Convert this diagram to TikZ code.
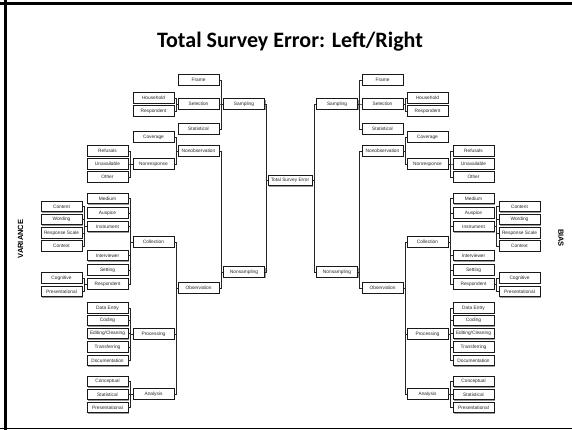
\documentclass[tikz,border=0pt]{standalone}
\usepackage{fontspec}
\setmainfont{Liberation Sans}
\newfontfamily\titlefont{Carlito}
\usetikzlibrary{calc,shadows}
\newcommand\joinbox[4]{\draw[conn] (#1.#3) -| ($(#2.#4)!0.5!(#2.#4 -| #1.#3)$) -- (#2.#4);}
\newcommand\halftree[4]{%
  \node[bx] (#1frame) at ({290.5#2 92},80) {Frame};
  \node[bx] (#1selection) at ({290.5#2 92},104) {Selection};
  \node[bx] (#1sampling) at ({290.5#2 46.5},104) {Sampling};
  \node[bx] (#1household) at ({290.5#2 137},98) {Household};
  \node[bx] (#1respsel) at ({290.5#2 137},111) {Respondent};
  \node[bx] (#1statsamp) at ({290.5#2 92},129) {Statistical};
  \node[bx] (#1coverage) at ({290.5#2 137},137) {Coverage};
  \node[bx] (#1nonobs) at ({290.5#2 92},151) {Nonobservation};
  \node[bx] (#1nonresp) at ({290.5#2 137},164) {Nonresponse};
  \node[bx] (#1refusals) at ({290.5#2 183},151) {Refusals};
  \node[bx] (#1unavail) at ({290.5#2 183},164) {Unavailable};
  \node[bx] (#1other) at ({290.5#2 183},177) {Other};
  \node[bx] (#1medium) at ({290.5#2 183},198.5) {Medium};
  \node[bx] (#1auspice) at ({290.5#2 183},213) {Auspice};
  \node[bx] (#1instrument) at ({290.5#2 183},226.5) {Instrument};
  \node[bx] (#1content) at ({290.5#2 229},206.5) {Content};
  \node[bx] (#1wording) at ({290.5#2 229},219.5) {Wording};
  \node[bx] (#1respscale) at ({290.5#2 229},233) {Response Scale};
  \node[bx] (#1context) at ({290.5#2 229},246) {Context};
  \node[bx] (#1collection) at ({290.5#2 137},242) {Collection};
  \node[bx] (#1interviewer) at ({290.5#2 183},255.5) {Interviewer};
  \node[bx] (#1setting) at ({290.5#2 183},270) {Setting};
  \node[bx] (#1nonsampling) at ({290.5#2 46.5},272) {Nonsampling};
  \node[bx] (#1respondent) at ({290.5#2 183},284) {Respondent};
  \node[bx] (#1cognitive) at ({290.5#2 229},278) {Cognitive};
  \node[bx] (#1presA) at ({290.5#2 229},291.5) {Presentational};
  \node[bx] (#1observation) at ({290.5#2 92},288) {Observation};
  \node[bx] (#1dataentry) at ({290.5#2 183},308) {Data Entry};
  \node[bx] (#1coding) at ({290.5#2 183},320.5) {Coding};
  \node[bx] (#1editing) at ({290.5#2 183},333.5) {Editing/Cleaning};
  \node[bx] (#1processing) at ({290.5#2 137},334) {Processing};
  \node[bx] (#1transferring) at ({290.5#2 183},347) {Transferring};
  \node[bx] (#1documentation) at ({290.5#2 183},360.5) {Documentation};
  \node[bx] (#1conceptual) at ({290.5#2 183},381.5) {Conceptual};
  \node[bx] (#1statan) at ({290.5#2 183},394.5) {Statistical};
  \node[bx] (#1analysis) at ({290.5#2 137},394) {Analysis};
  \node[bx] (#1presan) at ({290.5#2 183},407.5) {Presentational};
  \joinbox{#1frame}{#1sampling}{#3}{#4}
  \joinbox{#1selection}{#1sampling}{#3}{#4}
  \joinbox{#1statsamp}{#1sampling}{#3}{#4}
  \joinbox{#1household}{#1selection}{#3}{#4}
  \joinbox{#1respsel}{#1selection}{#3}{#4}
  \joinbox{#1coverage}{#1nonobs}{#3}{#4}
  \joinbox{#1nonresp}{#1nonobs}{#3}{#4}
  \joinbox{#1refusals}{#1nonresp}{#3}{#4}
  \joinbox{#1unavail}{#1nonresp}{#3}{#4}
  \joinbox{#1other}{#1nonresp}{#3}{#4}
  \joinbox{#1nonobs}{#1nonsampling}{#3}{#4}
  \joinbox{#1observation}{#1nonsampling}{#3}{#4}
  \joinbox{#1collection}{#1observation}{#3}{#4}
  \joinbox{#1processing}{#1observation}{#3}{#4}
  \joinbox{#1analysis}{#1observation}{#3}{#4}
  \joinbox{#1medium}{#1collection}{#3}{#4}
  \joinbox{#1auspice}{#1collection}{#3}{#4}
  \joinbox{#1instrument}{#1collection}{#3}{#4}
  \joinbox{#1interviewer}{#1collection}{#3}{#4}
  \joinbox{#1setting}{#1collection}{#3}{#4}
  \joinbox{#1respondent}{#1collection}{#3}{#4}
  \joinbox{#1content}{#1instrument}{#3}{#4}
  \joinbox{#1wording}{#1instrument}{#3}{#4}
  \joinbox{#1respscale}{#1instrument}{#3}{#4}
  \joinbox{#1context}{#1instrument}{#3}{#4}
  \joinbox{#1cognitive}{#1respondent}{#3}{#4}
  \joinbox{#1presA}{#1respondent}{#3}{#4}
  \joinbox{#1dataentry}{#1processing}{#3}{#4}
  \joinbox{#1coding}{#1processing}{#3}{#4}
  \joinbox{#1editing}{#1processing}{#3}{#4}
  \joinbox{#1transferring}{#1processing}{#3}{#4}
  \joinbox{#1documentation}{#1processing}{#3}{#4}
  \joinbox{#1conceptual}{#1analysis}{#3}{#4}
  \joinbox{#1statan}{#1analysis}{#3}{#4}
  \joinbox{#1presan}{#1analysis}{#3}{#4}
  \joinbox{#1sampling}{tse}{#3}{#4}
  \joinbox{#1nonsampling}{tse}{#3}{#4}
}
\begin{document}
\begin{tikzpicture}[x=1pt,y=-1pt,
  bx/.style={draw=black!90, line width=0.9pt, fill=white, minimum width=41pt,
    minimum height=10.3pt, inner sep=0pt, text=black!85,
    font=\fontsize{4.8}{5}\selectfont,
    drop shadow={shadow xshift=1.1pt, shadow yshift=-1.1pt, fill=black!40, opacity=1}},
  conn/.style={draw=black!85, line width=0.9pt}]
  \useasboundingbox (0,0) rectangle (572,430);
  \fill[white] (0,0) rectangle (572,430);
  \draw[line width=3pt] (0,3.2) -- (572,3.2);
  \draw[line width=3pt] (5.3,0) -- (5.3,430);
  \draw[line width=1.5pt] (0,428.6) -- (572,428.6);
  \node (title) at (290,42) {\titlefont\bfseries\fontsize{22}{26}\selectfont Total Survey Error: Left/Right};
  \node[bx, minimum width=44pt] (tse) at (290,180.5) {Total Survey Error};
  \halftree{L}{-}{east}{west}
  \halftree{R}{+}{west}{east}
  \node[rotate=90, font=\bfseries\fontsize{7.5}{8}\selectfont] (variance) at (20.5,239) {VARIANCE};
  \node[rotate=-90, font=\bfseries\fontsize{7.5}{8}\selectfont] (bias) at (561,238) {BIAS};
\end{tikzpicture}
\end{document}
